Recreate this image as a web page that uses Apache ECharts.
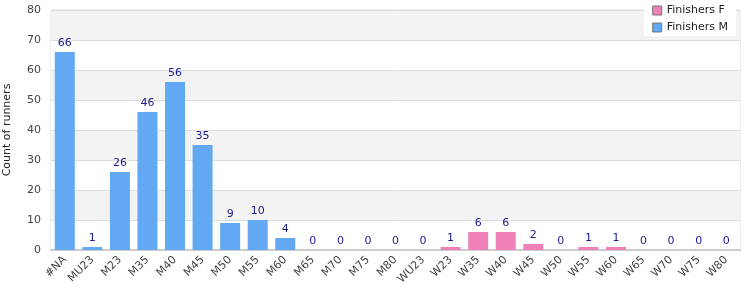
<!DOCTYPE html>
<html><head><meta charset="utf-8">
<script src="https://cdn.jsdelivr.net/npm/echarts@6/dist/echarts.min.js"></script>
<style>html,body{margin:0;padding:0;background:#fff}#c{width:750px;height:300px}</style>
</head><body><div id="c"></div>
<script>
const categories = ['#NA','MU23','M23','M35','M40','M45','M50','M55','M60','M65','M70','M75','M80','WU23','W23','W35','W40','W45','W50','W55','W60','W65','W70','W75','W80'];
const finishersM = [66,1,26,46,56,35,9,10,4,0,0,0,0,null,null,null,null,null,null,null,null,null,null,null,null];
const finishersF = [null,null,null,null,null,null,null,null,null,null,null,null,null,0,1,6,6,2,0,1,1,0,0,0,0];
const yTicks = [0,10,20,30,40,50,60,70,80];

const chart = echarts.init(document.getElementById('c'));
const lbl = {show:true, position:'top', color:'#1a1a8c', fontSize:11, fontFamily:'DejaVu Sans', distance:3};
chart.setOption({
  animation:false,
  textStyle:{fontFamily:'DejaVu Sans'},
  grid:{left:51, right:10, top:10, bottom:50, show:true, borderColor:'#ddd', borderWidth:1, containLabel:false, outerBoundsMode:'none'},
  legend:{orient:'vertical', right:14, top:2, itemWidth:9, itemHeight:9, itemGap:6, icon:'rect',
    backgroundColor:'#fff', padding:[3,8,3,8],
    textStyle:{fontSize:11, color:'#222'},
    data:[{name:'Finishers F', itemStyle:{borderColor:'#777', borderWidth:1}},{name:'Finishers M', itemStyle:{borderColor:'#777', borderWidth:1}}]},
  xAxis:{type:'category', data:categories,
    axisLine:{lineStyle:{color:'#ccc', width:2}}, axisTick:{show:false},
    axisLabel:{rotate:45, fontSize:11, color:'#444', interval:0, margin:8}},
  yAxis:{type:'value', min:yTicks[0], max:yTicks[yTicks.length-1], interval:10,
    name:'Count of runners', nameLocation:'middle', nameGap:38, nameTextStyle:{fontSize:11, color:'#222'},
    axisLabel:{fontSize:11, color:'#444', margin:10},
    axisLine:{show:false}, axisTick:{show:false},
    splitLine:{lineStyle:{color:'#ddd'}},
    splitArea:{show:true, areaStyle:{color:['#fff','#f3f3f3']}}},
  series:[
    {name:'Finishers F', type:'bar', stack:'a', data:finishersF, barWidth:20, itemStyle:{color:'#f080b8'}, label:lbl},
    {name:'Finishers M', type:'bar', stack:'a', data:finishersM, barWidth:20, itemStyle:{color:'#62a8f2'}, label:lbl}
  ]
});
</script></body></html>
